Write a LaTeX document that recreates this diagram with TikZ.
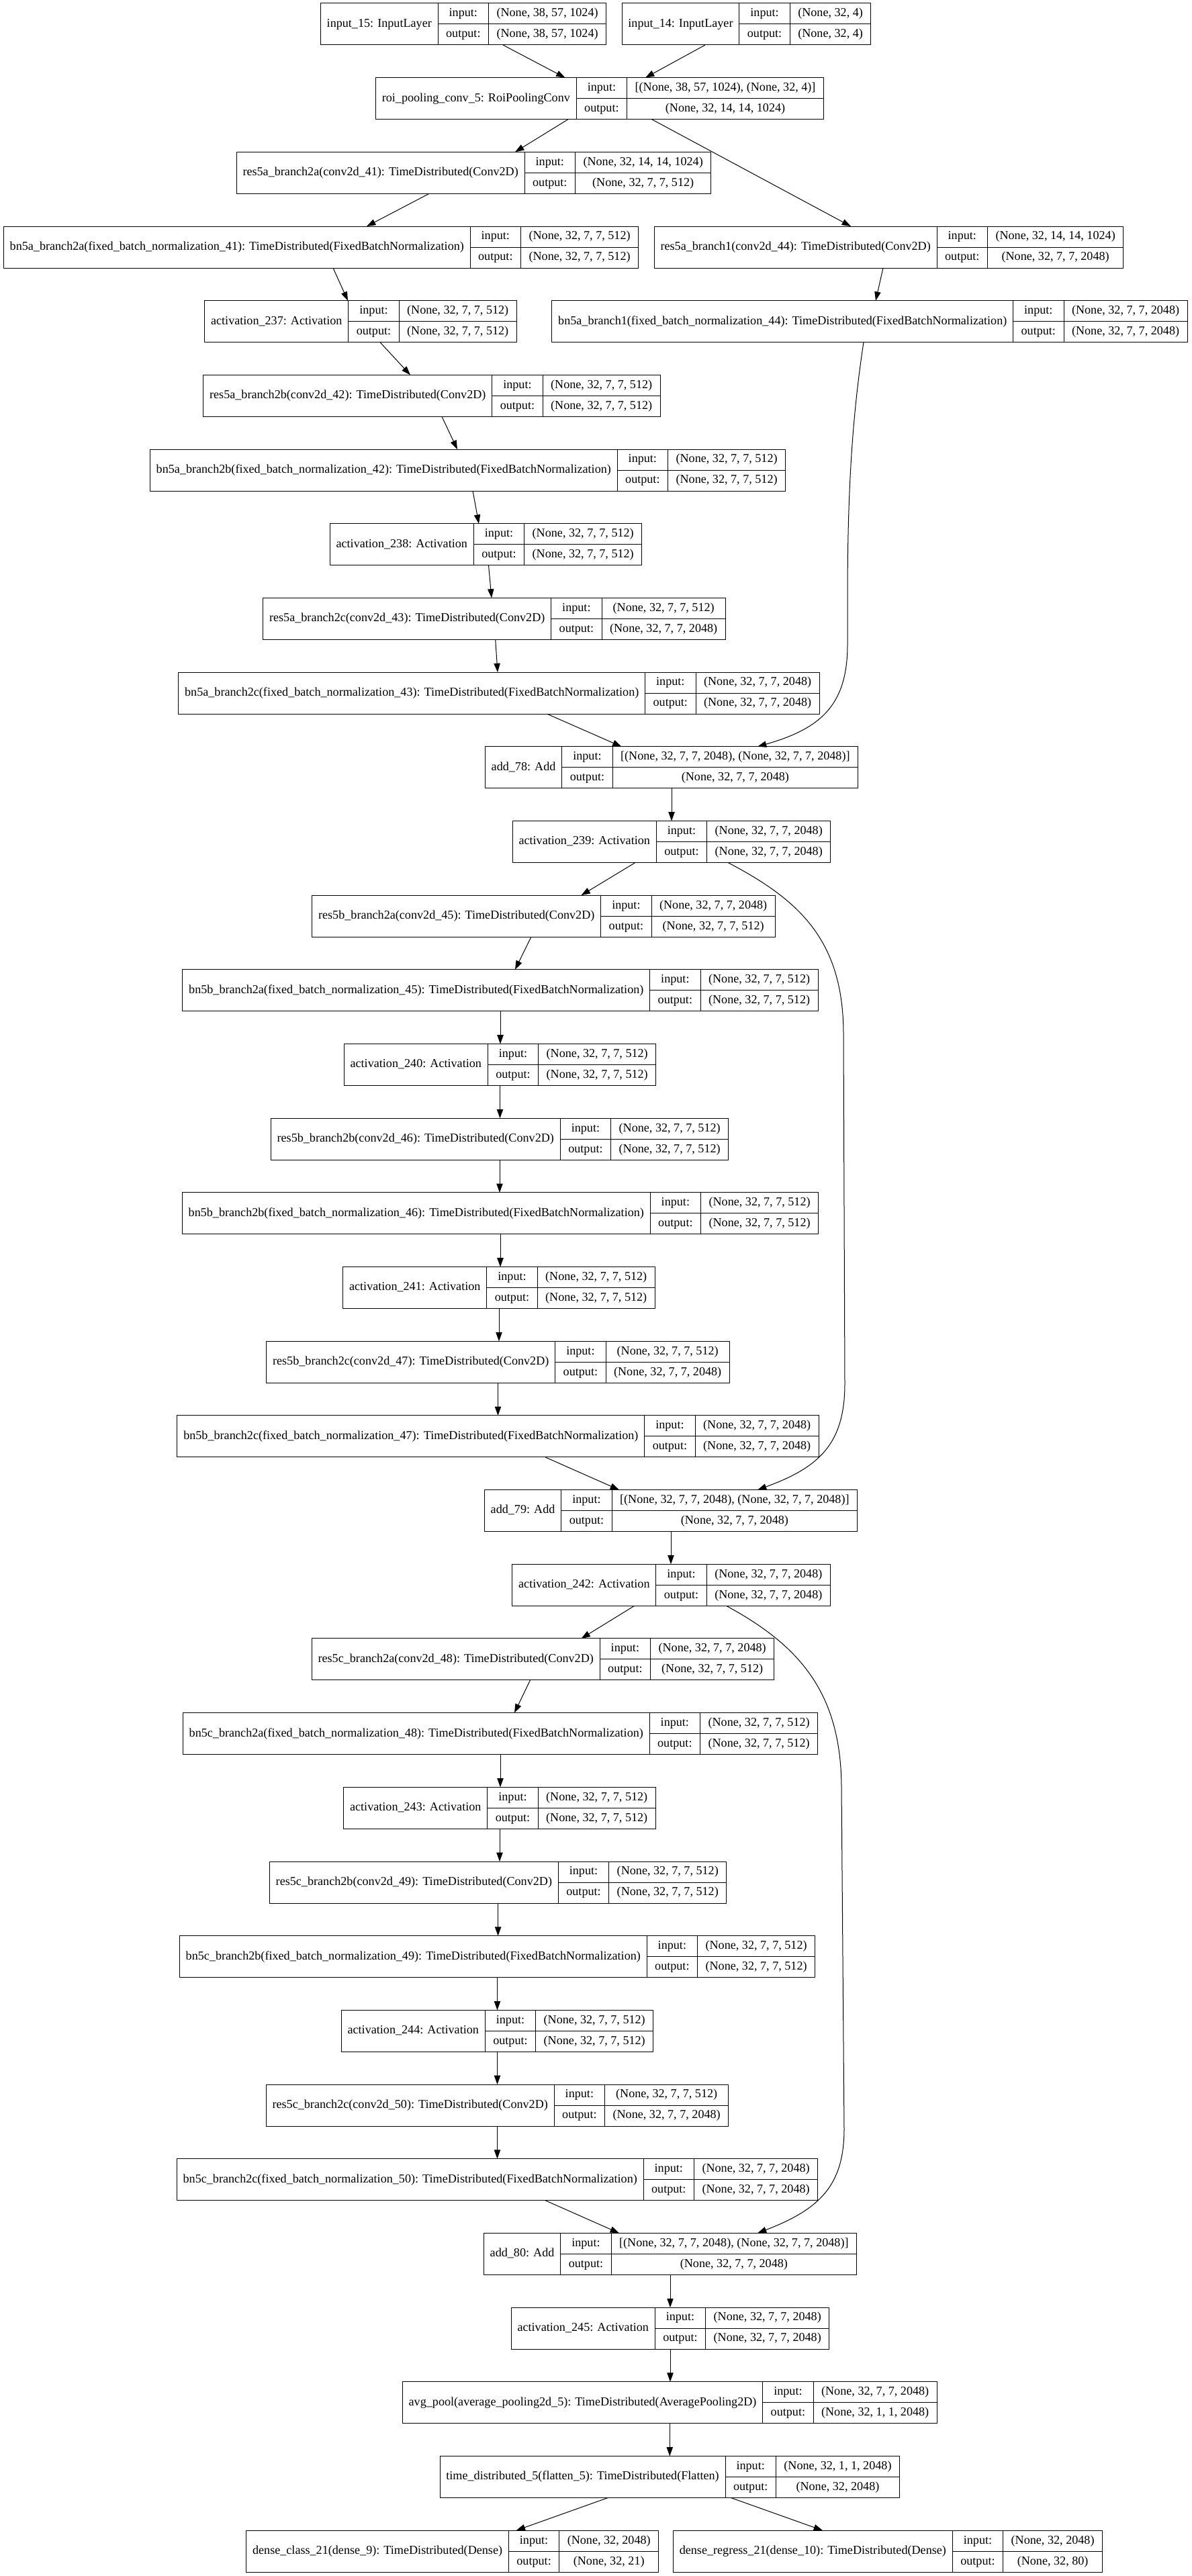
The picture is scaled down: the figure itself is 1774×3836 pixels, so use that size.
\documentclass[tikz,border=0pt]{standalone}
\usepackage{fontspec}
\setmainfont{Liberation Serif}
\usetikzlibrary{calc,arrows.meta}

\newcommand\recfont{\fontsize{13.6pt}{16pt}\selectfont}
\newdimen\wlab \newdimen\win \newdimen\wout \newdimen\wval \newdimen\wio
\newsavebox\measbox
% width of a text in the record font, measured outside the picture's null font
\newcommand\measure[2]{%
  \setbox\measbox\hbox{\pgfinterruptpicture\recfont #2\endpgfinterruptpicture}%
  #1=\wd\measbox\relax}

\tikzset{
  recbox/.style={draw, line width=0.75pt, rectangle, inner sep=0pt, outer sep=0pt, minimum height=46.5pt},
  recline/.style={line width=0.75pt},
  rectext/.style={font=\recfont, inner sep=0pt, text height=9.4pt, text depth=2.9pt, anchor=center},
  flow/.style={line width=0.75pt, -{Triangle[length=10pt,width=7pt]}},
}

% record: name, centre x (px), rank, label, input shape, output shape
\newcommand\layerbox[6]{%
  \measure\wlab{#4}%
  \measure\win{#5}%
  \measure\wout{#6}%
  \ifdim\win>\wout\relax \wval=\win\relax \else \wval=\wout\relax \fi
  \pgfmathsetmacro\Wa{\wlab+14}%
  \pgfmathsetmacro\Wb{\wio+18}%
  \pgfmathsetmacro\Wc{\wval+18}%
  \pgfmathsetmacro\Wt{\Wa+\Wb+\Wc}%
  \pgfmathsetmacro\xL{#2*0.75-\Wt/2}%
  \pgfmathsetmacro\xA{\xL+\Wa}%
  \pgfmathsetmacro\xB{\xA+\Wb}%
  \pgfmathsetmacro\xR{\xL+\Wt}%
  \pgfmathsetmacro\yT{-(5+110.68*#3)*0.75}%
  \pgfmathsetmacro\yM{\yT-23.25}%
  \pgfmathsetmacro\yB{\yT-46.5}%
  \pgfmathsetmacro\yU{\yT-11.625}%
  \pgfmathsetmacro\yD{\yT-34.875}%
  \pgfmathsetmacro\cA{(\xL+\xA)/2}%
  \pgfmathsetmacro\cB{(\xA+\xB)/2}%
  \pgfmathsetmacro\cC{(\xB+\xR)/2}%
  \node[recbox, minimum width=\Wt pt, anchor=north west] (#1) at (\xL pt,\yT pt) {};
  \draw[recline] (\xA pt,\yT pt) -- (\xA pt,\yB pt)
                 (\xB pt,\yT pt) -- (\xB pt,\yB pt)
                 (\xA pt,\yM pt) -- (\xR pt,\yM pt);
  \node[rectext] (#1-lab) at (\cA pt,\yM pt) {#4};
  \node[rectext] (#1-ik) at (\cB pt,\yU pt) {input:};
  \node[rectext] (#1-ok) at (\cB pt,\yD pt) {output:};
  \node[rectext] (#1-iv) at (\cC pt,\yU pt) {#5};
  \node[rectext] (#1-ov) at (\cC pt,\yD pt) {#6};
}

% slanted connector: source, tail offset (px), target, head offset (px)
\newcommand\conn[4]{\draw[flow] ($(#1.south)+(#2,0)$) -- ($(#3.north)+(#4,0)$);}
% straight vertical connector
\newcommand\vconn[2]{\draw[flow] (#1.south) -- (#1.south |- #2.north);}

\begin{document}
\begin{tikzpicture}[x=0.75pt,y=-0.75pt]
\useasboundingbox (0,0) rectangle (1774,3836);
\measure\wio{output:}

\def\sa{(None, 32, 7, 7, 512)}
\def\sb{(None, 32, 7, 7, 2048)}
\def\sc{(None, 32, 14, 14, 1024)}
\def\sadd{[(None, 32, 7, 7, 2048), (None, 32, 7, 7, 2048)]}
\def\tdc{TimeDistributed(Conv2D)}
\def\tdb{TimeDistributed(FixedBatchNormalization)}

\layerbox{in15}{690}{0}{input\_15: InputLayer}{(None, 38, 57, 1024)}{(None, 38, 57, 1024)}
\layerbox{in14}{1111.5}{0}{input\_14: InputLayer}{(None, 32, 4)}{(None, 32, 4)}
\layerbox{roi}{893}{1}{roi\_pooling\_conv\_5: RoiPoolingConv}{[(None, 38, 57, 1024), (None, 32, 4)]}{\sc}

\layerbox{r5a2a}{705.5}{2}{res5a\_branch2a(conv2d\_41): \tdc}{\sc}{\sa}
\layerbox{bn5a2a}{478}{3}{bn5a\_branch2a(fixed\_batch\_normalization\_41): \tdb}{\sa}{\sa}
\layerbox{r5a1}{1323.5}{3}{res5a\_branch1(conv2d\_44): \tdc}{\sc}{\sb}
\layerbox{act237}{537}{4}{activation\_237: Activation}{\sa}{\sa}
\layerbox{bn5a1}{1295}{4}{bn5a\_branch1(fixed\_batch\_normalization\_44): \tdb}{\sb}{\sb}
\layerbox{r5a2b}{643}{5}{res5a\_branch2b(conv2d\_42): \tdc}{\sa}{\sa}
\layerbox{bn5a2b}{696.5}{6}{bn5a\_branch2b(fixed\_batch\_normalization\_42): \tdb}{\sa}{\sa}
\layerbox{act238}{723.5}{7}{activation\_238: Activation}{\sa}{\sa}
\layerbox{r5a2c}{736}{8}{res5a\_branch2c(conv2d\_43): \tdc}{\sa}{\sb}
\layerbox{bn5a2c}{743}{9}{bn5a\_branch2c(fixed\_batch\_normalization\_43): \tdb}{\sb}{\sb}
\layerbox{add78}{1000}{10}{add\_78: Add}{\sadd}{\sb}
\layerbox{act239}{1000}{11}{activation\_239: Activation}{\sb}{\sb}

\layerbox{r5b2a}{809.5}{12}{res5b\_branch2a(conv2d\_45): \tdc}{\sb}{\sa}
\layerbox{bn5b2a}{745}{13}{bn5b\_branch2a(fixed\_batch\_normalization\_45): \tdb}{\sa}{\sa}
\layerbox{act240}{744.5}{14}{activation\_240: Activation}{\sa}{\sa}
\layerbox{r5b2b}{744}{15}{res5b\_branch2b(conv2d\_46): \tdc}{\sa}{\sa}
\layerbox{bn5b2b}{745}{16}{bn5b\_branch2b(fixed\_batch\_normalization\_46): \tdb}{\sa}{\sa}
\layerbox{act241}{743}{17}{activation\_241: Activation}{\sa}{\sa}
\layerbox{r5b2c}{741.5}{18}{res5b\_branch2c(conv2d\_47): \tdc}{\sa}{\sb}
\layerbox{bn5b2c}{741.6}{19}{bn5b\_branch2c(fixed\_batch\_normalization\_47): \tdb}{\sb}{\sb}
\layerbox{add79}{999}{20}{add\_79: Add}{\sadd}{\sb}
\layerbox{act242}{999.6}{21}{activation\_242: Activation}{\sb}{\sb}

\layerbox{r5c2a}{808.5}{22}{res5c\_branch2a(conv2d\_48): \tdc}{\sb}{\sa}
\layerbox{bn5c2a}{745}{23}{bn5c\_branch2a(fixed\_batch\_normalization\_48): \tdb}{\sa}{\sa}
\layerbox{act243}{744}{24}{activation\_243: Activation}{\sa}{\sa}
\layerbox{r5c2b}{741.6}{25}{res5c\_branch2b(conv2d\_49): \tdc}{\sa}{\sa}
\layerbox{bn5c2b}{740.5}{26}{bn5c\_branch2b(fixed\_batch\_normalization\_49): \tdb}{\sa}{\sa}
\layerbox{act244}{740.5}{27}{activation\_244: Activation}{\sa}{\sa}
\layerbox{r5c2c}{740.5}{28}{res5c\_branch2c(conv2d\_50): \tdc}{\sa}{\sb}
\layerbox{bn5c2c}{740.5}{29}{bn5c\_branch2c(fixed\_batch\_normalization\_50): \tdb}{\sb}{\sb}
\layerbox{add80}{998}{30}{add\_80: Add}{\sadd}{\sb}
\layerbox{act245}{998}{31}{activation\_245: Activation}{\sb}{\sb}

\layerbox{avg}{997.3}{32}{avg\_pool(average\_pooling2d\_5): TimeDistributed(AveragePooling2D)}{\sb}{(None, 32, 1, 1, 2048)}
\layerbox{td}{997.3}{33}{time\_distributed\_5(flatten\_5): TimeDistributed(Flatten)}{(None, 32, 1, 1, 2048)}{(None, 32, 2048)}
\layerbox{dcls}{673.7}{34}{dense\_class\_21(dense\_9): TimeDistributed(Dense)}{(None, 32, 2048)}{(None, 32, 21)}
\layerbox{dreg}{1322}{34}{dense\_regress\_21(dense\_10): TimeDistributed(Dense)}{(None, 32, 2048)}{(None, 32, 80)}

% connectors of the first block
\conn{in15}{59}{roi}{-51.5}
\conn{in14}{-61.5}{roi}{68}
\conn{roi}{-47}{r5a2a}{61.5}
\conn{roi}{77.5}{r5a1}{-56.5}
\conn{r5a2a}{-66.5}{bn5a2a}{68}
\conn{bn5a2a}{18}{act237}{-19}
\conn{act237}{29}{r5a2b}{-32}
\conn{r5a2b}{15}{bn5a2b}{-15.5}
\conn{bn5a2b}{7.5}{act238}{-10.5}
\conn{act238}{4}{r5a2c}{-4}
\conn{r5a2c}{1.7}{bn5a2c}{-2}
\conn{bn5a2c}{71.6}{add78}{-74.5}
\conn{r5a1}{-8.5}{bn5a1}{9}
\draw[flow] ($(bn5a1.south)+(-9,0)$) .. controls (1266,640) and (1262,760) .. (1262,900)
  -- (1262,960) .. controls (1262,1050) and (1222,1085) .. ($(add78.north)+(128,0)$);
\vconn{add78}{act239}

% second block
\conn{act239}{-54}{r5b2a}{56}
\draw[flow] ($(act239.south)+(84,0)$) .. controls (1190,1340) and (1256,1400) .. (1256,1540)
  -- (1258,2060) .. controls (1258,2150) and (1220,2185) .. ($(add79.north)+(129,0)$);
\conn{r5b2a}{-18.5}{bn5b2a}{22}
\vconn{bn5b2a}{act240}
\vconn{act240}{r5b2b}
\vconn{r5b2b}{bn5b2b}
\vconn{bn5b2b}{act241}
\vconn{act241}{r5b2c}
\vconn{r5b2c}{bn5b2c}
\conn{bn5b2c}{70.4}{add79}{-77}
\vconn{add79}{act242}

% third block
\conn{act242}{-55}{r5c2a}{57}
\draw[flow] ($(act242.south)+(82,0)$) .. controls (1190,2450) and (1252,2520) .. (1253,2660)
  -- (1257,3170) .. controls (1257,3255) and (1220,3290) .. ($(add80.north)+(130,0)$);
\conn{r5c2a}{-19}{bn5c2a}{21}
\vconn{bn5c2a}{act243}
\vconn{act243}{r5c2b}
\vconn{r5c2b}{bn5c2b}
\vconn{bn5c2b}{act244}
\vconn{act244}{r5c2c}
\vconn{r5c2c}{bn5c2c}
\conn{bn5c2c}{71.5}{add80}{-76}

% head of the network
\vconn{add80}{act245}
\vconn{act245}{avg}
\vconn{avg}{td}
\conn{td}{-92}{dcls}{95}
\conn{td}{91}{dreg}{-97}
\end{tikzpicture}
\end{document}
